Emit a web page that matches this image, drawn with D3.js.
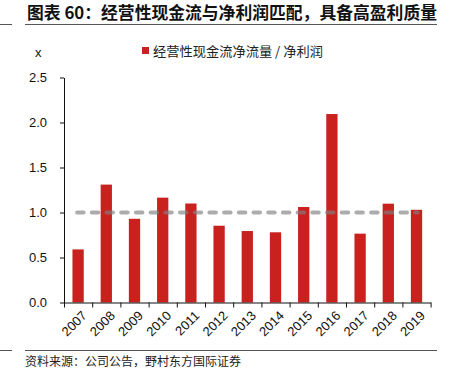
<!DOCTYPE html>
<html><head><meta charset="utf-8">
<script src="https://cdn.jsdelivr.net/npm/d3@7"></script>
<style>body{margin:0;background:#fff}svg{display:block}</style>
</head><body>
<script>
const categories = ["2007","2008","2009","2010","2011","2012","2013","2014","2015","2016","2017","2018","2019"];
const ratioValues = [0.59,1.31,0.93,1.165,1.10,0.853,0.794,0.78,1.061,2.094,0.765,1.098,1.03];
const referenceValue = [1.0];
const yTicks = [0,0.5,1.0,1.5,2.0,2.5];
const titleText = "图表 60：经营性现金流与净利润匹配，具备高盈利质量";
const legendText = "经营性现金流净流量 / 净利润";
const sourceText = "资料来源：公司公告，野村东方国际证券";
const unitText = "x";

const W = 449, H = 372;
const svg = d3.select("body").append("svg").attr("width", W).attr("height", H);
const numFont = "'Liberation Sans', Arial, sans-serif";
const cjkFont = "'Noto Sans CJK SC', sans-serif";

// title
svg.append("text").attr("x", 27).attr("y", 19).attr("font-family", cjkFont)
  .attr("font-weight", "bold").attr("font-size", 16.5).attr("fill", "#111")
  .attr("textLength", 410).attr("lengthAdjust", "spacingAndGlyphs").text(titleText);
svg.append("line").attr("x1", 25).attr("x2", 437).attr("y1", 24.5).attr("y2", 24.5).attr("stroke", "#555").attr("stroke-width", 1);
svg.append("line").attr("x1", 0).attr("x2", 12).attr("y1", 24.5).attr("y2", 24.5).attr("stroke", "#555").attr("stroke-width", 1);

// footer
svg.append("line").attr("x1", 25).attr("x2", 437).attr("y1", 350.5).attr("y2", 350.5).attr("stroke", "#555").attr("stroke-width", 1);
svg.append("line").attr("x1", 0).attr("x2", 12).attr("y1", 350.5).attr("y2", 350.5).attr("stroke", "#555").attr("stroke-width", 1);
svg.append("text").attr("x", 25).attr("y", 366).attr("font-family", cjkFont)
  .attr("font-size", 12).attr("fill", "#222")
  .attr("textLength", 216).attr("lengthAdjust", "spacingAndGlyphs").text(sourceText);

// scales
const y = d3.scaleLinear().domain([0, 2.5]).range([302.5, 77.5]);
const x = d3.scaleBand().domain(categories).range([64, 430.6]).paddingInner(0.6).paddingOuter(0.3);
const xb = d3.scaleLinear().domain([0, categories.length]).range([64, 430.6]);

// bars
svg.append("g").selectAll("rect").data(categories).join("rect")
  .attr("x", d => x(d)).attr("width", x.bandwidth())
  .attr("y", (d, i) => y(ratioValues[i])).attr("height", (d, i) => y(0) - y(ratioValues[i]))
  .attr("fill", "#C9211E");

// reference dashed line
const first = categories[0], last = categories[categories.length - 1];
svg.append("line")
  .attr("x1", x(first) + x.bandwidth() / 2 - 1).attr("x2", x(last) + x.bandwidth() / 2 + 1)
  .attr("y1", y(referenceValue[0])).attr("y2", y(referenceValue[0]))
  .attr("stroke", "#7f7f7f").attr("stroke-opacity", 0.65).attr("stroke-width", 4)
  .attr("stroke-linecap", "round").attr("stroke-dasharray", "6.5,8.2");

// y axis
const yAxis = svg.append("g").attr("transform", "translate(64,0)")
  .call(d3.axisLeft(y).tickValues(yTicks).tickFormat(d3.format(".1f")).tickSize(4).tickSizeOuter(0).tickPadding(13));
yAxis.selectAll("text").attr("font-family", numFont).attr("font-size", 13).attr("fill", "#111");
yAxis.selectAll("line,path").attr("stroke", "#111");

// x axis (ticks at band boundaries)
const xAxis = svg.append("g").attr("transform", "translate(0,302.5)")
  .call(d3.axisBottom(xb).tickValues(d3.range(categories.length + 1)).tickFormat("").tickSize(5).tickSizeOuter(0));
xAxis.selectAll("line,path").attr("stroke", "#111");

svg.append("g").selectAll("text").data(categories).join("text")
  .attr("transform", d => `translate(${x(d) + x.bandwidth() / 2 + 3},${310}) rotate(-45)`)
  .attr("text-anchor", "end").attr("dy", "0.7em")
  .attr("font-family", numFont).attr("font-size", 13).attr("fill", "#111").text(d => d);

// unit label
svg.append("text").attr("x", 35).attr("y", 57).attr("font-family", numFont).attr("font-size", 13)
  .attr("fill", "#111").text(unitText);

// legend
svg.append("rect").attr("x", 142).attr("y", 47).attr("width", 7).attr("height", 7).attr("fill", "#C9211E");
svg.append("text").attr("x", 153).attr("y", 55.5).attr("font-family", cjkFont).attr("font-size", 13)
  .attr("fill", "#222").attr("textLength", 170).attr("lengthAdjust", "spacingAndGlyphs").text(legendText);
</script>
</body></html>
